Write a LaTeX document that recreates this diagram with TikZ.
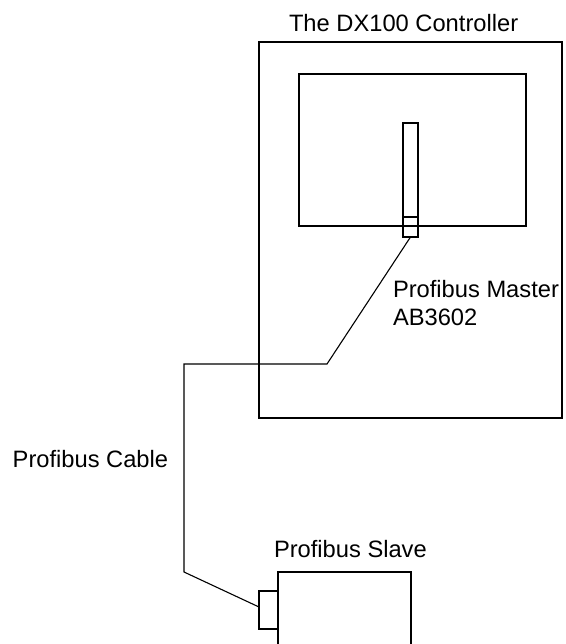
\documentclass[tikz,border=0pt]{standalone}
\usepackage{fontspec}
\setmainfont{Liberation Sans}
\begin{document}
\begin{tikzpicture}[x=1pt,y=-1pt,
  box/.style={draw, line width=1.1pt, inner sep=0pt, outer sep=0pt},
  lbl/.style={anchor=base west, inner sep=0pt, outer sep=0pt, font=\fontsize{23.7}{28}\selectfont},
  cable/.style={draw, line width=1.1pt}]
\useasboundingbox (0,0) rectangle (565,644);
\clip (0,0) rectangle (565,644);
% controller
\node[box, minimum width=303pt, minimum height=376pt] (ctrl) at (410.5,230) {};
\node[box, minimum width=227pt, minimum height=152pt] (inner) at (412.5,150) {};
\node[box, minimum width=15pt, minimum height=94pt] (card) at (410.5,170) {};
\node[box, minimum width=15pt, minimum height=20pt] (cardconn) at (410.5,227) {};
% slave
\node[box, minimum width=133pt, minimum height=108pt] (slave) at (344.5,626) {};
\node[box, minimum width=19pt, minimum height=38pt] (slaveconn) at (268.5,610) {};
% labels
\node[lbl] (title) at (289,32) {The DX100 Controller};
\node[lbl] (master) at (393,297) {Profibus Master};
\node[lbl] (ab) at (393,325) {AB3602};
\node[lbl] (cablelbl) at (12.7,467) {Profibus Cable};
\node[lbl] (slavelbl) at (274,557) {Profibus Slave};
% cable
\coordinate (b1) at (327,364);
\coordinate (b2) at (184,364);
\coordinate (b3) at (184,572);
\coordinate (b4) at (259,607);
\draw[cable] (cardconn.south) -- (b1) -- (b2) -- (b3) -- (b4);
\end{tikzpicture}
\end{document}
